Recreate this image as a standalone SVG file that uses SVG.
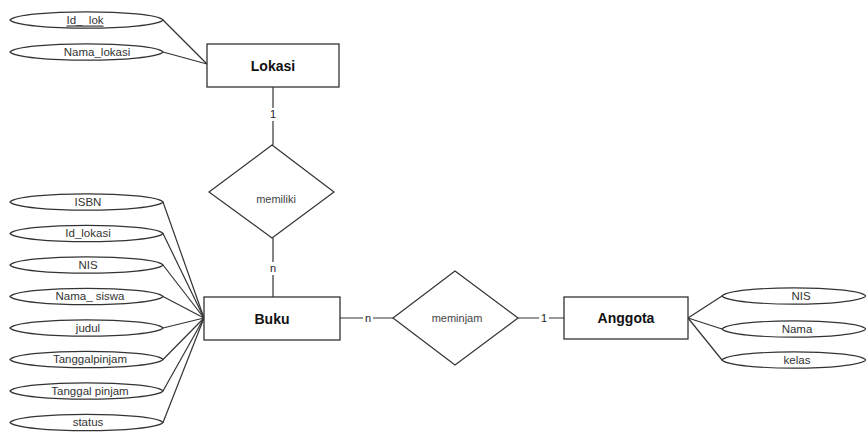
<svg xmlns="http://www.w3.org/2000/svg" width="866" height="432" viewBox="0 0 866 432">
<style>
.ent{fill:#fff;stroke:#333;stroke-width:1.3}
.att{fill:#fff;stroke:#333;stroke-width:1.2}
.rel{fill:#fff;stroke:#333;stroke-width:1.2}
.ln{stroke:#333;stroke-width:1.2;fill:none}
.et{font-family:"Liberation Sans",Arial,sans-serif;font-size:14px;font-weight:bold;fill:#111;text-anchor:middle;dominant-baseline:central}
.at{font-family:"Liberation Sans",Arial,sans-serif;font-size:11.5px;fill:#333;text-anchor:middle;dominant-baseline:central;white-space:pre}
.rt{font-family:"Liberation Sans",Arial,sans-serif;font-size:11px;fill:#444;text-anchor:middle;dominant-baseline:central}
.card{font-family:"Liberation Sans",Arial,sans-serif;font-size:11px;fill:#222;text-anchor:middle;dominant-baseline:central}
</style>
<defs>
<path id="ellL" class="att" d="M0,0 C10,-10.8 143,-10.8 153,0 C143,10.8 10,10.8 0,0 Z"/>
<path id="ellR" class="att" d="M0,0 C10,-10.8 134,-10.8 144,0 C134,10.8 10,10.8 0,0 Z"/>
</defs>
<rect width="866" height="432" fill="#fff"/>
<g id="connectors">
<line class="ln" x1="163" y1="20" x2="207" y2="64"/>
<line class="ln" x1="163" y1="52" x2="207" y2="64"/>
<line class="ln" x1="273" y1="87" x2="273" y2="145"/>
<line class="ln" x1="273" y1="238" x2="273" y2="297"/>
<line class="ln" x1="340" y1="318" x2="393" y2="318"/>
<line class="ln" x1="518" y1="318" x2="564" y2="318"/>
<line class="ln" x1="163" y1="202" x2="204" y2="318"/>
<line class="ln" x1="163" y1="233.5" x2="204" y2="318"/>
<line class="ln" x1="163" y1="265" x2="204" y2="318"/>
<line class="ln" x1="163" y1="296.5" x2="204" y2="318"/>
<line class="ln" x1="163" y1="328" x2="204" y2="318"/>
<line class="ln" x1="163" y1="359.5" x2="204" y2="318"/>
<line class="ln" x1="163" y1="391" x2="204" y2="318"/>
<line class="ln" x1="163" y1="422.5" x2="204" y2="318"/>
<line class="ln" x1="688" y1="318" x2="722" y2="296"/>
<line class="ln" x1="688" y1="318" x2="722" y2="329"/>
<line class="ln" x1="688" y1="318" x2="722" y2="360"/>
<rect x="268" y="108" width="10" height="13" fill="#fff"/>
<text class="card" x="273" y="114">1</text>
<rect x="268" y="262" width="10" height="13" fill="#fff"/>
<text class="card" x="273" y="268">n</text>
<rect x="363" y="312" width="10" height="12" fill="#fff"/>
<text class="card" x="368" y="318">n</text>
<rect x="539" y="312" width="10" height="12" fill="#fff"/>
<text class="card" x="544" y="318">1</text>
</g>
<g id="lokasi"><rect class="ent" x="207" y="44" width="132" height="43"/><text class="et" x="273" y="65.5">Lokasi</text></g>
<g id="buku"><rect class="ent" x="204" y="297" width="136" height="43"/><text class="et" x="272" y="318.5">Buku</text></g>
<g id="anggota"><rect class="ent" x="564" y="297" width="124" height="42"/><text class="et" x="626" y="318">Anggota</text></g>
<g id="memiliki"><polygon class="rel" points="272,145 334,192 272,238 209,192"/><text class="rt" x="276" y="199">memiliki</text></g>
<g id="meminjam"><polygon class="rel" points="455,271 518,318 455,365 393,318"/><text class="rt" x="457" y="318">meminjam</text></g>
<g id="attr-id-lok"><use href="#ellL" x="10" y="20"/><text class="at" x="85" y="19.5" text-decoration="underline">Id_  lok</text></g>
<g id="attr-nama-lokasi"><use href="#ellL" x="10" y="52"/><text class="at" x="97" y="51.5">Nama_lokasi</text></g>
<g id="attr-isbn"><use href="#ellL" x="10" y="202"/><text class="at" x="88" y="201.5">ISBN</text></g>
<g id="attr-id-lokasi"><use href="#ellL" x="10" y="233.5"/><text class="at" x="88" y="233">Id_lokasi</text></g>
<g id="attr-nis-buku"><use href="#ellL" x="10" y="265"/><text class="at" x="88" y="264.5">NIS</text></g>
<g id="attr-nama-siswa"><use href="#ellL" x="10" y="296.5"/><text class="at" x="90" y="296">Nama_ siswa</text></g>
<g id="attr-judul"><use href="#ellL" x="10" y="328"/><text class="at" x="88" y="327.5">judul</text></g>
<g id="attr-tanggal-pinjam-1"><use href="#ellL" x="10" y="359.5"/><text class="at" x="90" y="359">Tanggalpinjam</text></g>
<g id="attr-tanggal-pinjam-2"><use href="#ellL" x="10" y="391"/><text class="at" x="90" y="390.5">Tanggal pinjam</text></g>
<g id="attr-status"><use href="#ellL" x="10" y="422.5"/><text class="at" x="88" y="422">status</text></g>
<g id="attr-nis"><use href="#ellR" x="722" y="296"/><text class="at" x="801" y="296">NIS</text></g>
<g id="attr-nama"><use href="#ellR" x="722" y="329"/><text class="at" x="797" y="329">Nama</text></g>
<g id="attr-kelas"><use href="#ellR" x="722" y="360"/><text class="at" x="797" y="360">kelas</text></g>
</svg>
